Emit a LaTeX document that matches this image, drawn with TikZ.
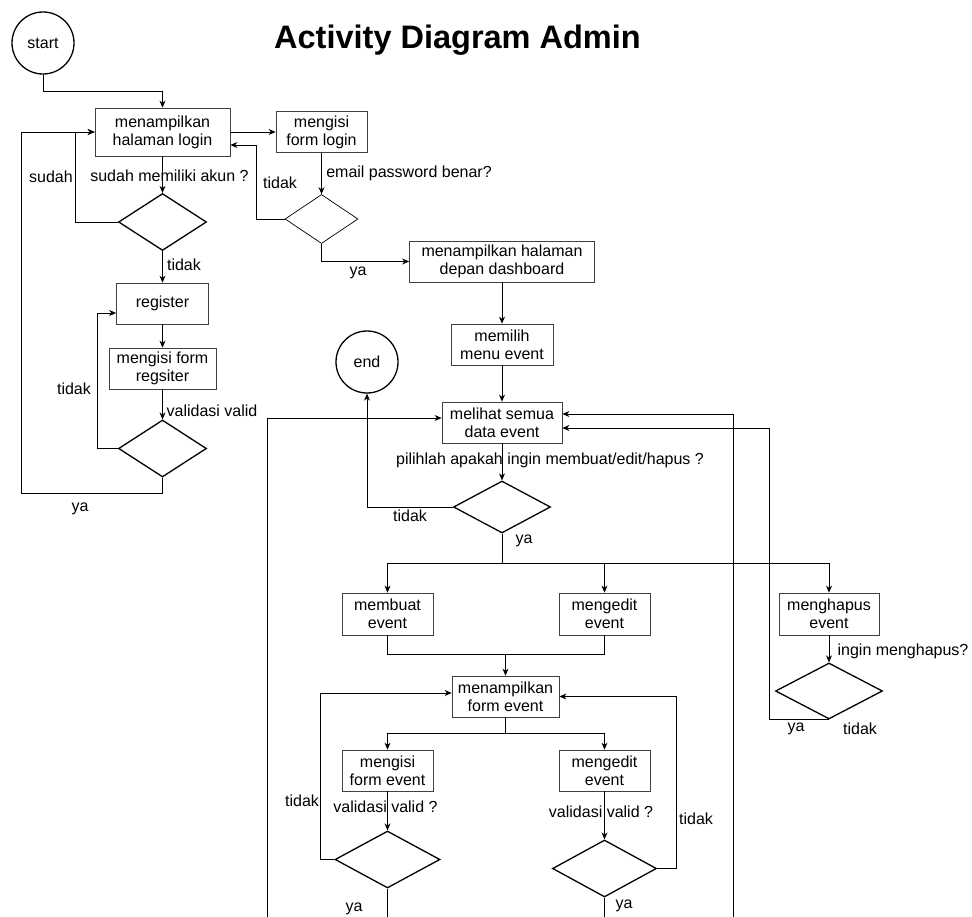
\documentclass[tikz,border=0pt]{standalone}
\usepackage{fontspec}
\setmainfont{Liberation Sans}
\usetikzlibrary{arrows.meta,shapes.geometric}

\begin{document}
\begin{tikzpicture}[x=1pt,y=-1pt,font=\fontsize{16}{18}\selectfont,line width=0.8pt]
  \tikzstyle{aksi}=[draw=black!75,rectangle,align=center,inner sep=1pt]
  \tikzstyle{cek}=[draw,diamond,inner sep=0pt,line width=1.3pt]
  \tikzstyle{titik}=[draw,circle,inner sep=0pt,minimum size=62pt,line width=1.3pt]
  \tikzstyle{panah}=[-{Stealth[length=7pt,width=6pt]}]
  \tikzstyle{ket}=[inner sep=0pt]
  \useasboundingbox (0,0) rectangle (972,917);
  \node[font=\fontsize{32.5}{36}\selectfont\bfseries] (judul) at (457.5,40) {Activity Diagram Admin};
  \node[titik] (start) at (43,43) {start};
  \node[aksi,minimum width=135pt,minimum height=48pt] (login) at (162.5,132) {menampilkan\\halaman login};
  \node[aksi,minimum width=91pt,minimum height=41pt] (formlogin) at (321.5,132) {mengisi\\form login};
  \node[cek,line width=0.7pt,minimum width=73pt,minimum height=49pt] (cekLogin) at (321.5,219) {};
  \node[aksi,minimum width=185pt,minimum height=41pt] (dashboard) at (502,261.5) {menampilkan halaman\\depan dashboard};
  \node[aksi,minimum width=102pt,minimum height=41pt] (memilih) at (502,344.5) {memilih\\menu event};
  \node[aksi,minimum width=120pt,minimum height=41pt] (melihat) at (502,422.5) {melihat semua\\data event};
  \node[titik] (end) at (367,362) {end};
  \node[cek,minimum width=97pt,minimum height=52pt] (cekPilih) at (502,507) {};
  \node[aksi,minimum width=91pt,minimum height=42pt] (membuat) at (387.5,614) {membuat\\event};
  \node[aksi,minimum width=91pt,minimum height=42pt] (ubah) at (604.5,614) {mengedit\\event};
  \node[aksi,minimum width=100pt,minimum height=42pt] (hapus) at (829,614) {menghapus\\event};
  \node[cek,minimum width=107pt,minimum height=56pt] (cekHapus) at (829,691) {};
  \node[aksi,minimum width=107pt,minimum height=41pt] (formEvent) at (505.5,696.5) {menampilkan\\form event};
  \node[aksi,minimum width=91pt,minimum height=41pt] (isiEvent) at (387.5,770.5) {mengisi\\form event};
  \node[aksi,minimum width=91pt,minimum height=41pt] (ubahEvent) at (604.5,770.5) {mengedit\\event};
  \node[cek,minimum width=105pt,minimum height=57pt] (cekIsi) at (387.5,859.5) {};
  \node[cek,minimum width=104pt,minimum height=57pt] (cekUbah) at (604.5,868.5) {};
  \node[cek,minimum width=88pt,minimum height=57pt] (akun) at (162.5,222) {};
  \node[aksi,minimum width=92pt,minimum height=41pt] (register) at (162.5,303.5) {register};
  \node[aksi,minimum width=107pt,minimum height=41pt] (isiReg) at (162.5,368.5) {mengisi form\\regsiter};
  \node[cek,minimum width=88pt,minimum height=57pt] (cekReg) at (162.5,448.5) {};
  \coordinate (bawahKiri) at (267,917);
  \coordinate (bawahKanan) at (733,917);

  \node[ket] (k1) at (169.5,176) {sudah memiliki akun ?};
  \node[ket] (k2) at (51,177) {sudah};
  \node[ket] (k3) at (280,183) {tidak};
  \node[ket] (k4) at (409,173) {email password benar?};
  \node[ket] (k5) at (358,273) {ya};
  \node[ket] (k6) at (184,265) {tidak};
  \node[ket] (k7) at (74,389) {tidak};
  \node[ket] (k8) at (212,411) {validasi valid};
  \node[ket] (k9) at (80,509) {ya};
  \node[ket] (k10) at (550,460) {pilihlah apakah ingin membuat/edit/hapus ?};
  \node[ket] (k11) at (410,516) {tidak};
  \node[ket] (k12) at (524,541) {ya};
  \node[ket] (k13) at (903,651) {ingin menghapus?};
  \node[ket] (k14) at (796,729) {ya};
  \node[ket] (k15) at (860,729) {tidak};
  \node[ket] (k16) at (302,801) {tidak};
  \node[ket] (k17) at (385.5,807) {validasi valid ?};
  \node[ket] (k18) at (354,909) {ya};
  \node[ket] (k19) at (601,812) {validasi valid ?};
  \node[ket] (k20) at (696,819) {tidak};
  \node[ket] (k21) at (624,906) {ya};

  \draw[panah] (start.south) -- ++(0,17) -| (login.north);
  \draw[panah] (login.east) -- (formlogin.west);
  \draw[panah] (formlogin.south) -- (cekLogin.north);
  \draw[panah] (cekLogin.west) -- ++(-28,0) |- ([yshift=-13pt]login.east);
  \draw[panah] (cekLogin.south) |- (dashboard.west);
  \draw[panah] (dashboard.south) -- (memilih.north);
  \draw[panah] (memilih.south) -- (melihat.north);
  \draw[panah] (melihat.south) -- (cekPilih.north);
  \draw[panah] (cekPilih.west) -| (end.south);
  \path (cekPilih.south) ++(0,30) coordinate (cabang);
  \draw (cekPilih.south) -- (cabang);
  \foreach \n in {membuat,ubah,hapus}
    \draw[panah] (cabang) -| (\n.north);
  \path (formEvent.north) ++(0,-21) coordinate (gabung);
  \foreach \n in {membuat,ubah}
    \draw (\n.south) |- (gabung);
  \draw[panah] (gabung) -- (formEvent.north);
  \path (formEvent.south) ++(0,16) coordinate (cabang2);
  \draw (formEvent.south) -- (cabang2);
  \foreach \n in {isiEvent,ubahEvent}
    \draw[panah] (cabang2) -| (\n.north);
  \draw[panah] (isiEvent.south) -- (cekIsi.north);
  \draw[panah] (ubahEvent.south) -- (cekUbah.north);
  \draw[panah] (cekIsi.west) -- ++(-14,0) |- ([yshift=3.5pt]formEvent.west);
  \draw[panah] (cekUbah.east) -- ++(19,0) |- (formEvent.east);
  \draw (cekIsi.south) -- ++(0,30);
  \draw (cekUbah.south) -- ++(0,21);
  \draw[panah] (hapus.south) -- (cekHapus.north);
  \draw[panah] (cekHapus.south) -- ++(-60,0) |- ([yshift=-5.5pt]melihat.east);
  \draw[panah] (bawahKiri) |- ([yshift=4.5pt]melihat.west);
  \draw[panah] (bawahKanan) |- ([yshift=8.5pt]melihat.east);
  \draw[panah] (login.south) -- (akun.north);
  \draw[panah] (akun.west) -- ++(-42,0) |- (login.west);
  \draw[panah] (akun.south) -- (register.north);
  \draw[panah] (register.south) -- (isiReg.north);
  \draw[panah] (isiReg.south) -- (cekReg.north);
  \draw[panah] (cekReg.west) -- ++(-20,0) |- ([yshift=-9.5pt]register.west);
  \draw[panah] (cekReg.south) -- ++(0,16) -- ++(-141.5,0) |- (login.west);
\end{tikzpicture}
\end{document}
